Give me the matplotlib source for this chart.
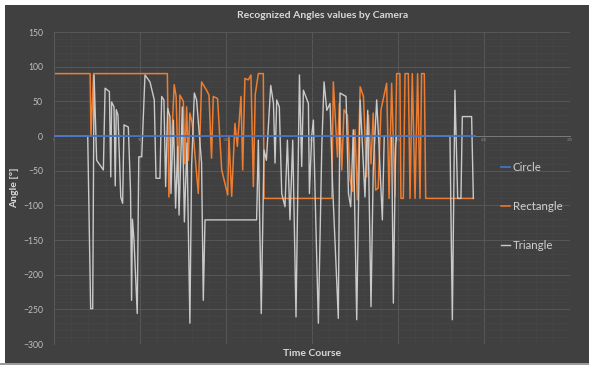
import numpy as np
import matplotlib
matplotlib.use('Agg')
import matplotlib.pyplot as plt
from matplotlib.patches import Rectangle
from matplotlib.ticker import MultipleLocator

# values (time course index, angle in degrees)
circle_t = [0, 244.5]
circle_v = [0, 0]

rect_t = [0, 21, 21.5, 23, 65.9, 66.8, 69.9, 71, 72.3, 73.2, 75.2, 76, 77.1, 78.1, 79, 80.4,
          83.9, 85.8, 88.7, 90.1, 91.6, 92.6, 95.1, 97.5, 101, 101.7, 103.3, 105.2, 106.6,
          108.7, 109.7, 111, 113, 114.5, 115.9, 117, 118.8, 121.7, 122.1, 161.5, 162.4,
          164.8, 165.9, 167.3, 168.6, 170.6, 172.1, 173.7, 175, 176.4, 178, 179.9, 181.8,
          182.8, 184.3, 185.6, 187, 188.5, 190.1, 193.4, 194.8, 196.3, 198.2, 199.2, 201.1,
          201.7, 203.1, 204.1, 206, 207, 208.3, 209.9, 211.4, 212.8, 213.7, 215.3, 216.1, 243.8]
rect_v = [90, 90, 0, 90, 90, -88, 74, 57, -68, 59, 50, -40, 42, -35, 33, 18,
          -83, 78, 66, 59, -32, 57, 54, -49, -85, -1, -87, 18, -15,
          57, -49, 83, 81, 88, -73, 60, 90, 90, -90, -90, 78,
          -30, 47, -49, 38, 30, -63, -80, 9, -92, 71, 57, -59,
          30, -40, 33, -78, -75, 38, 76, -90, 76, -87, 90, 90,
          -90, -90, 90, 90, -90, 90, -90, 90, -90, 90, 90, -90, -90]

tri_t = [0, 19.6, 21.3, 22.5, 23.3, 24.8, 28.7, 29.7, 32.2, 33, 33.5, 34.9, 35.6, 36.2, 37.2,
         38.8, 39.9, 40.7, 43.2, 44.5, 45.1, 45.6, 46.5, 48.4, 49.3, 51, 52.9, 55.8, 58.3,
         59.3, 61.6, 62.6, 63.9, 64.9, 66.1, 67.4, 68, 69.4, 70.7, 71.9, 72.7, 74.6, 75.8,
         77.3, 79, 80, 81.6, 82.9, 85.8, 86.8, 87.8, 117.8, 118.8, 120.5, 122.1, 123.5, 126,
         127.6, 128.5, 129.5, 131, 132.4, 134.3, 135.7, 137.2, 138.8, 140.7, 142.7, 144, 145,
         147.9, 148.5, 149.8, 150.8, 151.8, 153.7, 155.7, 157, 158.6, 160.5, 162, 165.3,
         166.3, 169.8, 171.2, 172.5, 174, 176, 178, 180.8, 182.4, 184.3, 185.6, 187.6, 188.9,
         190.9, 192, 196.3, 197.3, 198.6, 199.2, 230.2, 231.6, 233.1, 234.7, 236.6, 237.4,
         242.8, 243.8]
tri_v = [0, 0, -249, -249, 88, -35, -49, 69, 64, -59, 49, 42, -72, 38, 30,
         -88, -97, 16, 13, -80, -237, -120, -150, -256, -30, -30, 88, 78, 52,
         -61, -61, 57, 52, -73, 40, 28, -83, 23, -104, -15, -114, 42, -124,
         -10, -270, -44, 62, 52, -39, -237, -121, -121, -6, -256, -20, -35, 73,
         47, -39, 52, 42, -83, -102, -6, -121, -6, -261, 88, -44, 66,
         47, -83, -1, 23, -83, -270, -15, 78, 37, 47, -73, -263,
         62, 57, -83, -102, 9, -265, 52, -88, 37, -246, -49, 52, -11,
         -121, 0, 0, -241, -15, 0, 0, -265, 66, -90, -90, 28,
         28, -90]

bg = '#404040'
fig = plt.figure(figsize=(5.89, 3.65), dpi=100)
fig.patch.set_facecolor(bg)
plt.rcParams['font.family'] = ['Lato', 'DejaVu Sans']

# white frame of the screenshot at top/left, light line at the bottom
fig.patches.append(Rectangle((0, 1 - 5 / 365), 1, 5 / 365, transform=fig.transFigure,
                             facecolor='white', edgecolor='none'))
fig.patches.append(Rectangle((0, 0), 5 / 589, 1, transform=fig.transFigure,
                             facecolor='white', edgecolor='none'))
fig.patches.append(Rectangle((0, 0), 1, 2.5 / 365, transform=fig.transFigure,
                             facecolor='#9a9a9a', edgecolor='none'))

ax = fig.add_axes([54 / 589, 21 / 365, 516 / 589, 312 / 365])
ax.set_facecolor(bg)

ax.plot(tri_t, tri_v, color='#cacaca', lw=1.0, label='Triangle', zorder=3)
ax.plot(rect_t, rect_v, color='#ED7D31', lw=1.1, label='Rectangle', zorder=2)
ax.plot(circle_t, circle_v, color='#4472C4', lw=1.3, label='Circle', zorder=4)

ax.set_xlim(0, 300)
ax.set_ylim(-300, 150)
ax.xaxis.set_major_locator(MultipleLocator(50))
ax.yaxis.set_major_locator(MultipleLocator(50))
ax.xaxis.set_minor_locator(MultipleLocator(10))
ax.yaxis.set_minor_locator(MultipleLocator(10))
ax.grid(True, which='major', color='#575757', lw=0.7, zorder=0)
ax.grid(True, which='minor', color='#464646', lw=0.5, zorder=0)
ax.set_axisbelow(True)

for s in ['top', 'right']:
    ax.spines[s].set_visible(False)
ax.spines['left'].set_color('#5a5a5a')
ax.spines['left'].set_linewidth(0.7)
ax.spines['bottom'].set_position(('data', 0))
ax.spines['bottom'].set_color('#7a7a7a')
ax.spines['bottom'].set_linewidth(0.7)

ax.tick_params(axis='both', which='both', length=0)
ax.tick_params(axis='y', labelsize=6.2, labelcolor='#bfbfbf', pad=8)
ax.tick_params(axis='x', labelsize=2.5, labelcolor='#8c8c8c', pad=1.5)

fig.text(323 / 589, 1 - 16 / 365, 'Recognized Angles values by Camera', ha='center', va='center',
         fontsize=7.5, fontweight='bold', color='#d9d9d9')
fig.text(312 / 589, 1 - 353 / 365, 'Time Course', ha='center', va='center',
         fontsize=7.5, fontweight='bold', color='#d9d9d9')
fig.text(15 / 589, 1 - 188 / 365, 'Angle [°]', ha='center', va='center', rotation=90,
         fontsize=7.5, fontweight='bold', color='#d9d9d9')

handles, labels = ax.get_legend_handles_labels()
order = [2, 1, 0]
leg = fig.legend([handles[i] for i in order], [labels[i] for i in order],
                 loc='upper left', bbox_to_anchor=(501 / 589, 1 - 162 / 365),
                 bbox_transform=fig.transFigure, frameon=False, fontsize=8.3,
                 handlelength=0.8, handletextpad=0.2, labelspacing=2.45,
                 borderpad=0, borderaxespad=0, labelcolor='#d0d0d0')

fig.savefig('out.png', dpi=100, facecolor=fig.get_facecolor())
